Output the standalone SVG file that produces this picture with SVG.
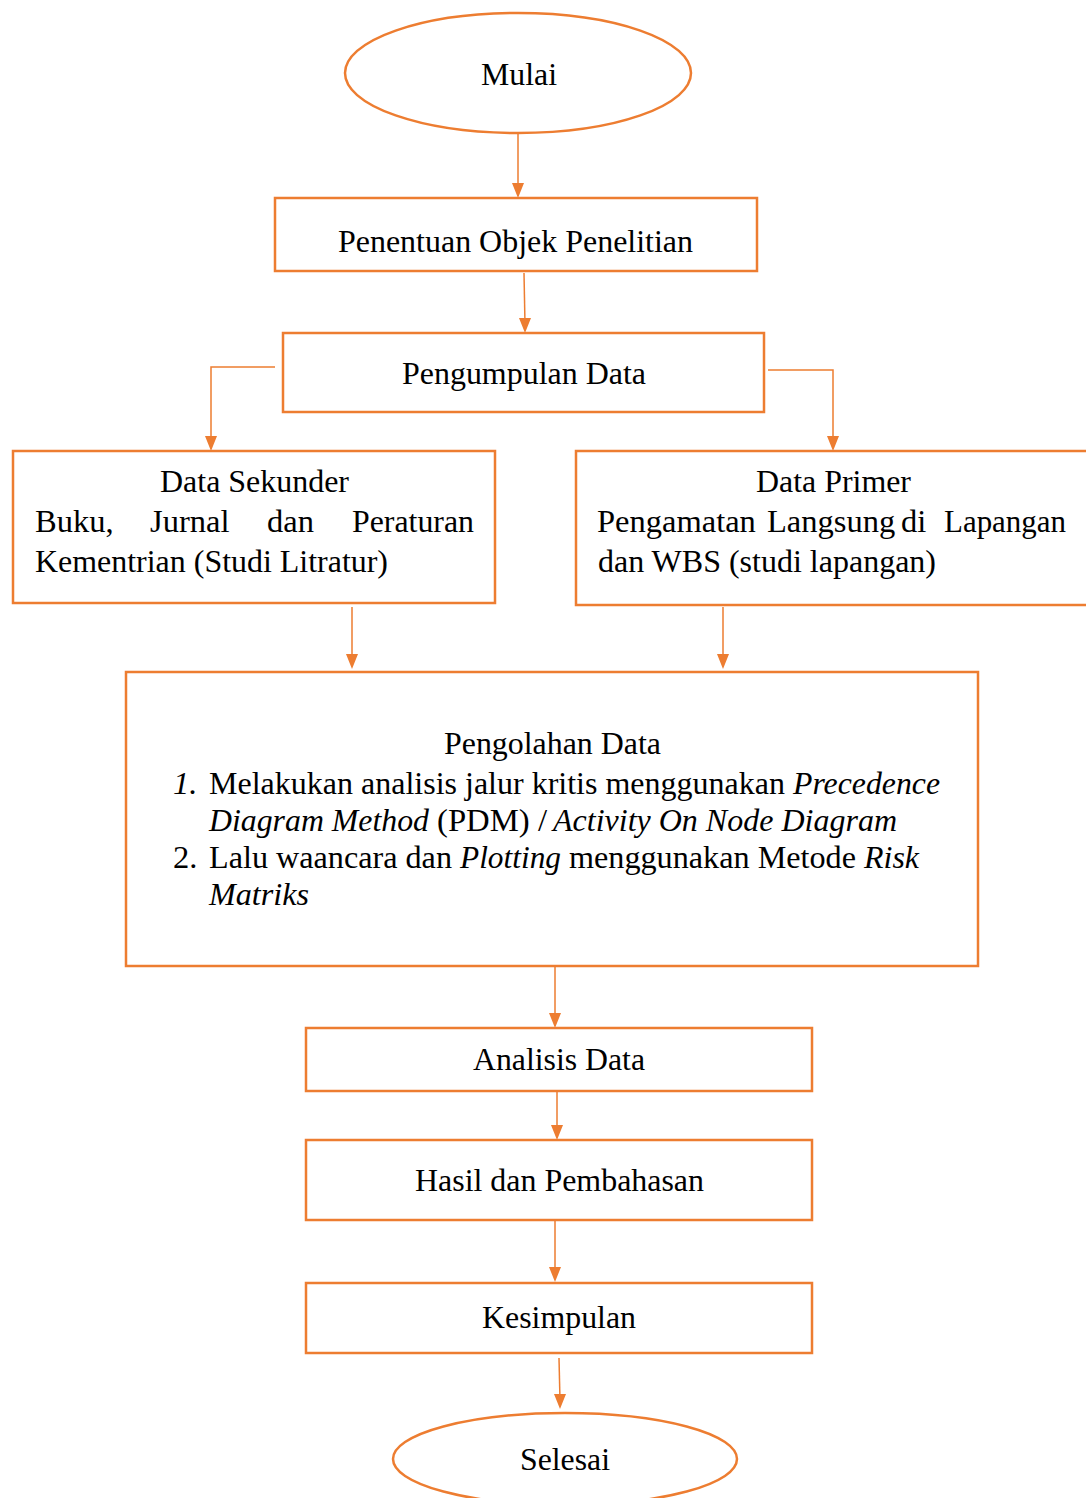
<svg xmlns="http://www.w3.org/2000/svg" width="1086" height="1498" viewBox="0 0 1086 1498">
<style>
.n{fill:#fff;stroke:#ED7D31;stroke-width:2.5}
.c{fill:none;stroke:#ED7D31;stroke-width:1.5}
text{font-family:"Liberation Serif","Times New Roman",serif;font-size:32.5px;fill:#000}
.m{text-anchor:middle}
.i{font-style:italic}
</style>
<rect width="1086" height="1498" fill="#fff"/>
<g id="connectors">
<path class="c" d="M518,133 V190"/>
<path class="c" d="M524,273 L525,325"/>
<path class="c" d="M275,367 H211 V443"/>
<path class="c" d="M768,370 H833 V443"/>
<path class="c" d="M352,607 V661"/>
<path class="c" d="M723,607 V661"/>
<path class="c" d="M555,966 V1020"/>
<path class="c" d="M557,1091 V1132"/>
<path class="c" d="M555,1220 V1274"/>
<path class="c" d="M559,1358 L560,1401"/>
<g fill="#ED7D31">
<path d="M512,183 H524 L518,198 Z"/>
<path d="M519,318 H531 L525,333 Z"/>
<path d="M205,436 H217 L211,451 Z"/>
<path d="M827,436 H839 L833,451 Z"/>
<path d="M346,654 H358 L352,669 Z"/>
<path d="M717,654 H729 L723,669 Z"/>
<path d="M549,1013 H561 L555,1028 Z"/>
<path d="M551,1125 H563 L557,1140 Z"/>
<path d="M549,1267 H561 L555,1282 Z"/>
<path d="M554,1394 H566 L560,1409 Z"/>
</g>
</g>
<g id="mulai">
<ellipse class="n" cx="518" cy="73" rx="173" ry="60"/>
<text class="m" x="519" y="85" textLength="76" lengthAdjust="spacingAndGlyphs">Mulai</text>
</g>
<g id="penentuan">
<rect class="n" x="275" y="198" width="482" height="73"/>
<text class="m" x="515.5" y="252" textLength="355" lengthAdjust="spacingAndGlyphs">Penentuan Objek Penelitian</text>
</g>
<g id="pengumpulan">
<rect class="n" x="283" y="333" width="481" height="79"/>
<text class="m" x="524" y="384" textLength="244" lengthAdjust="spacingAndGlyphs">Pengumpulan Data</text>
</g>
<g id="sekunder">
<rect class="n" x="13" y="451" width="482" height="152"/>
<text class="m" x="254.5" y="492" textLength="189" lengthAdjust="spacingAndGlyphs">Data Sekunder</text>
<text x="35" y="532">Buku,</text>
<text x="150" y="532">Jurnal</text>
<text x="267" y="532">dan</text>
<text x="352" y="532" textLength="122" lengthAdjust="spacingAndGlyphs">Peraturan</text>
<text x="35" y="572" textLength="353" lengthAdjust="spacingAndGlyphs">Kementrian (Studi Litratur)</text>
</g>
<g id="primer">
<rect class="n" x="576" y="451" width="520" height="154"/>
<text class="m" x="833.5" y="492" textLength="155" lengthAdjust="spacingAndGlyphs">Data Primer</text>
<text x="597" y="532">Pengamatan</text>
<text x="767" y="532">Langsung</text>
<text x="901" y="532">di</text>
<text x="944" y="532" textLength="122" lengthAdjust="spacingAndGlyphs">Lapangan</text>
<text x="598" y="572" textLength="338" lengthAdjust="spacingAndGlyphs">dan WBS (studi lapangan)</text>
</g>
<g id="pengolahan">
<rect class="n" x="126" y="672" width="852" height="294"/>
<text class="m" x="552.5" y="754" textLength="217" lengthAdjust="spacingAndGlyphs">Pengolahan Data</text>
<text class="i" x="173" y="794">1.</text>
<text x="209" y="794" textLength="576" lengthAdjust="spacingAndGlyphs">Melakukan analisis jalur kritis menggunakan</text>
<text class="i" x="793" y="794" textLength="147" lengthAdjust="spacingAndGlyphs">Precedence</text>
<text class="i" x="209" y="831" textLength="220" lengthAdjust="spacingAndGlyphs">Diagram Method</text>
<text x="437" y="831" textLength="110" lengthAdjust="spacingAndGlyphs">(PDM) /</text>
<text class="i" x="553" y="831" textLength="344" lengthAdjust="spacingAndGlyphs">Activity On Node Diagram</text>
<text x="173" y="868">2.</text>
<text x="209" y="868" textLength="243" lengthAdjust="spacingAndGlyphs">Lalu waancara dan</text>
<text class="i" x="460" y="868" textLength="101" lengthAdjust="spacingAndGlyphs">Plotting</text>
<text x="569" y="868" textLength="287" lengthAdjust="spacingAndGlyphs">menggunakan Metode</text>
<text class="i" x="864" y="868" textLength="55" lengthAdjust="spacingAndGlyphs">Risk</text>
<text class="i" x="209" y="905" textLength="100" lengthAdjust="spacingAndGlyphs">Matriks</text>
</g>
<g id="analisis">
<rect class="n" x="306" y="1028" width="506" height="63"/>
<text class="m" x="559" y="1070" textLength="172" lengthAdjust="spacingAndGlyphs">Analisis Data</text>
</g>
<g id="hasil">
<rect class="n" x="306" y="1140" width="506" height="80"/>
<text class="m" x="559.5" y="1191" textLength="289" lengthAdjust="spacingAndGlyphs">Hasil dan Pembahasan</text>
</g>
<g id="kesimpulan">
<rect class="n" x="306" y="1283" width="506" height="70"/>
<text class="m" x="559" y="1328" textLength="154" lengthAdjust="spacingAndGlyphs">Kesimpulan</text>
</g>
<g id="selesai">
<ellipse class="n" cx="565" cy="1459" rx="172" ry="46"/>
<text class="m" x="565" y="1470" textLength="90" lengthAdjust="spacingAndGlyphs">Selesai</text>
</g>
</svg>
